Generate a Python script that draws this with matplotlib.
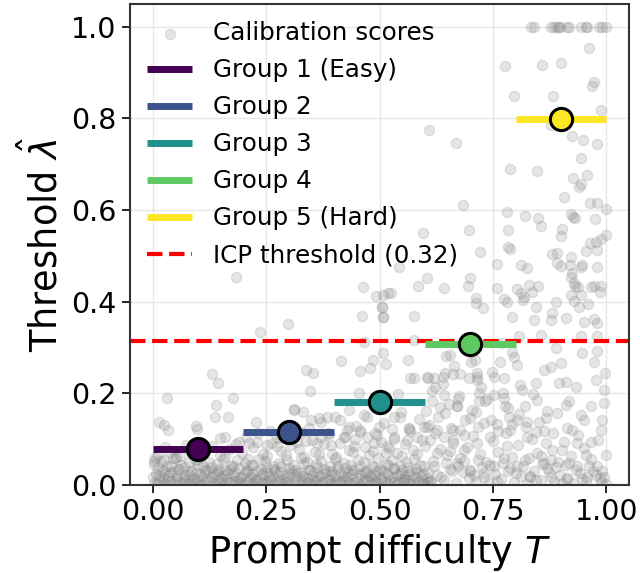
import numpy as np
import matplotlib
matplotlib.use("Agg")
import matplotlib.pyplot as plt

# group thresholds (bin edges + per-group lambda)
bin_edges = [0.0, 0.2, 0.4, 0.6, 0.8, 1.0]
group_lambda = [0.078, 0.116, 0.180, 0.307, 0.798]
group_labels = ["Group 1 (Easy)", "Group 2", "Group 3", "Group 4", "Group 5 (Hard)"]
icp_threshold = 0.315

# calibration scores (dense bottom band, row by row)
band1_T = [0.003, 0.015, 0.028, 0.041, 0.052, 0.066, 0.078, 0.089, 0.101, 0.114,
           0.126, 0.139, 0.151, 0.163, 0.176, 0.188, 0.199, 0.213, 0.224, 0.238,
           0.249, 0.261, 0.276, 0.288, 0.299, 0.312, 0.326, 0.337, 0.349, 0.363,
           0.374, 0.388, 0.401, 0.412, 0.426, 0.437, 0.451, 0.463, 0.474, 0.488,
           0.499, 0.513, 0.524, 0.538, 0.551, 0.562, 0.576, 0.588, 0.601, 0.614]
band1_y = [0.004, 0.010, 0.002, 0.008, 0.012, 0.003, 0.007, 0.001, 0.011, 0.005,
           0.009, 0.002, 0.006, 0.012, 0.004, 0.008, 0.001, 0.010, 0.005, 0.007,
           0.003, 0.011, 0.006, 0.002, 0.009, 0.004, 0.012, 0.007, 0.001, 0.008,
           0.005, 0.010, 0.003, 0.006, 0.011, 0.002, 0.009, 0.004, 0.008, 0.012,
           0.003, 0.007, 0.010, 0.001, 0.006, 0.011, 0.004, 0.008, 0.002, 0.009]

band2_T = [0.008, 0.021, 0.034, 0.046, 0.059, 0.071, 0.083, 0.096, 0.108, 0.121,
           0.133, 0.145, 0.158, 0.170, 0.182, 0.194, 0.207, 0.219, 0.231, 0.244,
           0.256, 0.268, 0.281, 0.293, 0.306, 0.318, 0.331, 0.343, 0.356, 0.368,
           0.381, 0.393, 0.406, 0.419, 0.431, 0.444, 0.457, 0.469, 0.482, 0.494,
           0.507, 0.519, 0.532, 0.545, 0.557, 0.570, 0.583, 0.596]
band2_y = [0.024, 0.031, 0.019, 0.028, 0.035, 0.022, 0.030, 0.026, 0.017, 0.033,
           0.025, 0.029, 0.021, 0.034, 0.027, 0.018, 0.032, 0.023, 0.030, 0.026,
           0.020, 0.034, 0.028, 0.022, 0.031, 0.025, 0.019, 0.033, 0.027, 0.021,
           0.030, 0.024, 0.035, 0.020, 0.028, 0.032, 0.023, 0.026, 0.018, 0.031,
           0.029, 0.022, 0.034, 0.025, 0.020, 0.030, 0.027, 0.023]

band3_T = [0.004, 0.018, 0.031, 0.049, 0.062, 0.080, 0.093, 0.111, 0.124, 0.142,
           0.155, 0.173, 0.186, 0.204, 0.217, 0.235, 0.248, 0.266, 0.279, 0.297,
           0.310, 0.328, 0.341, 0.359, 0.372, 0.390, 0.403, 0.421, 0.434, 0.452,
           0.465, 0.483, 0.496, 0.514, 0.527, 0.545, 0.558, 0.576, 0.589]
band3_y = [0.045, 0.052, 0.040, 0.058, 0.043, 0.049, 0.055, 0.041, 0.050, 0.046,
           0.057, 0.042, 0.053, 0.048, 0.044, 0.056, 0.051, 0.040, 0.047, 0.054,
           0.043, 0.059, 0.049, 0.045, 0.052, 0.041, 0.057, 0.048, 0.044, 0.055,
           0.050, 0.042, 0.058, 0.046, 0.053, 0.041, 0.049, 0.056, 0.044]

band4_T = [0.012, 0.038, 0.061, 0.085, 0.117, 0.148, 0.171, 0.196, 0.221, 0.243,
           0.262, 0.284, 0.305, 0.322, 0.339, 0.358, 0.377, 0.395, 0.414, 0.433,
           0.447, 0.468, 0.486, 0.503, 0.521, 0.539, 0.556, 0.574, 0.593]
band4_y = [0.066, 0.072, 0.063, 0.069, 0.075, 0.064, 0.078, 0.070, 0.082, 0.068,
           0.091, 0.074, 0.086, 0.079, 0.095, 0.071, 0.088, 0.067, 0.092, 0.077,
           0.099, 0.083, 0.073, 0.094, 0.081, 0.069, 0.089, 0.076, 0.097]

band5_T = [0.205, 0.232, 0.258, 0.281, 0.301, 0.327, 0.345, 0.371, 0.389, 0.412,
           0.428, 0.449, 0.466, 0.491, 0.509, 0.528, 0.548, 0.567, 0.586, 0.605]
band5_y = [0.104, 0.112, 0.118, 0.108, 0.131, 0.115, 0.124, 0.137, 0.110, 0.141,
           0.119, 0.128, 0.152, 0.113, 0.135, 0.122, 0.158, 0.117, 0.143, 0.126]

band6_T = [0.009, 0.022, 0.035, 0.047, 0.058, 0.072, 0.084, 0.095, 0.107, 0.119,
           0.132, 0.144, 0.157, 0.169, 0.181, 0.193, 0.206, 0.218, 0.230, 0.243,
           0.255, 0.267, 0.280, 0.292, 0.305, 0.317, 0.330, 0.342, 0.355, 0.367,
           0.380, 0.392, 0.405, 0.418, 0.430, 0.443, 0.456, 0.468, 0.481, 0.493,
           0.506, 0.518, 0.531, 0.544, 0.556, 0.569, 0.582, 0.595, 0.607]
band6_y = [0.002, 0.006, 0.009, 0.001, 0.005, 0.010, 0.003, 0.007, 0.000, 0.008,
           0.004, 0.011, 0.002, 0.006, 0.009, 0.003, 0.007, 0.001, 0.010, 0.004,
           0.008, 0.002, 0.011, 0.005, 0.000, 0.009, 0.003, 0.007, 0.010, 0.002,
           0.006, 0.001, 0.008, 0.011, 0.004, 0.007, 0.000, 0.010, 0.003, 0.006,
           0.009, 0.002, 0.005, 0.008, 0.011, 0.001, 0.007, 0.004, 0.006]

band7_T = [0.001, 0.013, 0.026, 0.039, 0.054, 0.068, 0.081, 0.092, 0.105, 0.117,
           0.130, 0.141, 0.154, 0.167, 0.179, 0.191, 0.203, 0.216, 0.228, 0.240,
           0.253, 0.265, 0.277, 0.290, 0.302, 0.315, 0.328, 0.340, 0.352, 0.365,
           0.377, 0.390, 0.403, 0.415, 0.428, 0.440, 0.453, 0.466, 0.478, 0.491,
           0.503, 0.516, 0.529, 0.541, 0.554, 0.566, 0.579, 0.592, 0.605]
band7_y = [0.016, 0.022, 0.014, 0.027, 0.019, 0.015, 0.024, 0.013, 0.021, 0.028,
           0.017, 0.023, 0.014, 0.026, 0.020, 0.015, 0.025, 0.018, 0.013, 0.022,
           0.027, 0.016, 0.021, 0.014, 0.024, 0.019, 0.028, 0.015, 0.022, 0.017,
           0.026, 0.013, 0.020, 0.025, 0.016, 0.023, 0.014, 0.027, 0.019, 0.021,
           0.015, 0.026, 0.018, 0.022, 0.013, 0.024, 0.017, 0.020, 0.015]

band8_T = [0.011, 0.025, 0.040, 0.055, 0.070, 0.086, 0.099, 0.115, 0.128, 0.146,
           0.160, 0.177, 0.190, 0.209, 0.222, 0.239, 0.252, 0.270, 0.284, 0.300,
           0.314, 0.333, 0.346, 0.362, 0.377, 0.394, 0.408, 0.425, 0.439, 0.456,
           0.470, 0.487, 0.501, 0.518, 0.533, 0.549, 0.563, 0.580, 0.597]
band8_y = [0.036, 0.031, 0.042, 0.034, 0.038, 0.030, 0.044, 0.033, 0.039, 0.035,
           0.032, 0.041, 0.037, 0.030, 0.043, 0.034, 0.038, 0.031, 0.040, 0.036,
           0.033, 0.045, 0.032, 0.039, 0.035, 0.030, 0.042, 0.037, 0.033, 0.040,
           0.031, 0.038, 0.034, 0.043, 0.036, 0.032, 0.039, 0.035, 0.041]

band9_T = [0.006, 0.027, 0.052, 0.073, 0.098, 0.131, 0.160, 0.183, 0.211, 0.229,
           0.251, 0.273, 0.294, 0.314, 0.333, 0.352, 0.366, 0.386, 0.404, 0.423,
           0.441, 0.458, 0.477, 0.495, 0.514, 0.531, 0.549, 0.565, 0.583, 0.601]
band9_y = [0.058, 0.083, 0.061, 0.087, 0.055, 0.084, 0.060, 0.089, 0.057, 0.094,
           0.063, 0.102, 0.066, 0.109, 0.060, 0.097, 0.068, 0.112, 0.061, 0.105,
           0.072, 0.116, 0.064, 0.108, 0.070, 0.101, 0.062, 0.121, 0.067, 0.085]

right1_T = [0.612, 0.627, 0.641, 0.655, 0.668, 0.684, 0.697, 0.712, 0.726, 0.741,
            0.755, 0.768, 0.783, 0.797, 0.812, 0.826, 0.840, 0.855, 0.869, 0.884,
            0.898, 0.913, 0.927, 0.942, 0.956, 0.971, 0.985, 0.998]
right1_y = [0.006, 0.021, 0.011, 0.034, 0.004, 0.027, 0.015, 0.009, 0.038, 0.003,
            0.024, 0.013, 0.031, 0.007, 0.019, 0.002, 0.029, 0.010, 0.036, 0.005,
            0.022, 0.012, 0.003, 0.026, 0.008, 0.030, 0.014, 0.002]

right2_T = [0.618, 0.633, 0.649, 0.662, 0.677, 0.692, 0.705, 0.721, 0.735, 0.749,
            0.762, 0.778, 0.791, 0.806, 0.820, 0.835, 0.848, 0.862, 0.879, 0.893,
            0.906, 0.921, 0.937, 0.951, 0.966, 0.981]
right2_y = [0.052, 0.078, 0.064, 0.091, 0.058, 0.083, 0.106, 0.067, 0.049, 0.095,
            0.072, 0.113, 0.061, 0.087, 0.054, 0.101, 0.069, 0.118, 0.076, 0.050,
            0.093, 0.063, 0.108, 0.081, 0.057, 0.098]

right3_T = [0.607, 0.621, 0.636, 0.646, 0.659, 0.672, 0.687, 0.699, 0.709, 0.718,
            0.731, 0.744, 0.758, 0.773, 0.787, 0.801, 0.816, 0.831, 0.845, 0.859,
            0.873, 0.888, 0.903, 0.917, 0.932, 0.947, 0.962, 0.976, 0.990]
right3_y = [0.028, 0.041, 0.018, 0.047, 0.029, 0.040, 0.052, 0.031, 0.021, 0.055,
            0.017, 0.044, 0.008, 0.048, 0.037, 0.026, 0.042, 0.020, 0.011, 0.045,
            0.027, 0.039, 0.004, 0.047, 0.033, 0.012, 0.042, 0.021, 0.031]

right4_T = [0.609, 0.623, 0.644, 0.658, 0.673, 0.687, 0.703, 0.717, 0.733, 0.746,
            0.761, 0.776, 0.792, 0.808, 0.823, 0.838, 0.852, 0.868, 0.883]
right4_y = [0.131, 0.112, 0.157, 0.124, 0.188, 0.109, 0.163, 0.127, 0.184, 0.141,
            0.118, 0.172, 0.133, 0.155, 0.126, 0.198, 0.137, 0.161, 0.113]

mid_T = [0.603, 0.615, 0.628, 0.639, 0.652, 0.664, 0.676, 0.689, 0.701, 0.713,
         0.724, 0.736, 0.748, 0.759, 0.771, 0.783, 0.711, 0.715, 0.715, 0.719,
         0.663, 0.678, 0.605]
mid_y = [0.162, 0.205, 0.148, 0.221, 0.176, 0.259, 0.193, 0.142, 0.268, 0.158,
         0.214, 0.187, 0.247, 0.132, 0.201, 0.168, 0.273, 0.244, 0.229, 0.200,
         0.241, 0.241, 0.236]

# sparser points, read one by one
sparse_T = [0.834, 0.840, 0.877, 0.884, 0.890, 0.895, 0.898, 0.913, 0.917, 0.943,
            0.954, 0.957, 0.983, 0.991, 0.998,
            0.961, 0.776, 0.857, 0.899, 0.972, 0.969, 0.796, 0.882, 0.987, 0.877,
            0.924, 0.948, 0.979, 0.943, 0.609, 0.669, 0.788, 0.847,
            0.927, 0.958, 0.945, 0.940, 0.907, 0.685, 0.963, 0.979, 0.999, 0.780,
            0.820, 0.849, 0.855, 0.921, 0.927, 0.930, 0.975, 0.698, 0.596, 0.783,
            0.902, 0.900, 0.998, 0.987, 0.978, 0.963, 0.783, 0.788, 0.721, 0.879,
            0.891, 0.921, 0.956, 0.979, 0.544, 0.759, 0.812, 0.825, 0.891, 0.899,
            0.919, 0.943, 0.946, 0.979, 0.605, 0.585, 0.641, 0.700, 0.695, 0.525,
            0.508, 0.506, 0.508, 0.577, 0.713, 0.713, 0.727, 0.758, 0.775, 0.781,
            0.802, 0.812, 0.818, 0.829, 0.836, 0.849, 0.816, 0.845, 0.889, 0.879,
            0.911, 0.921, 0.924, 0.928, 0.931, 0.937, 0.921, 0.943, 0.928, 0.939,
            0.960, 0.967, 0.972, 0.985, 0.989, 0.878, 0.840, 0.791, 0.950, 0.972,
            0.979,
            0.184, 0.463, 0.493, 0.518, 0.506, 0.507, 0.461, 0.298, 0.236,
            0.130, 0.144, 0.032, 0.140, 0.177, 0.138, 0.166, 0.013, 0.024, 0.033,
            0.095, 0.098, 0.227, 0.311, 0.159, 0.149, 0.212, 0.252, 0.274, 0.190,
            0.004, 0.024, 0.046,
            0.577, 0.465, 0.508, 0.415, 0.486, 0.515, 0.562, 0.337, 0.353, 0.458,
            0.478, 0.568, 0.577, 0.606, 0.619, 0.640, 0.645, 0.647, 0.655, 0.623,
            0.346, 0.454, 0.540, 0.641, 0.312, 0.331, 0.432, 0.473, 0.531, 0.546,
            0.616, 0.634, 0.671, 0.366, 0.384, 0.401, 0.348, 0.432, 0.458, 0.498,
            0.564, 0.597, 0.627, 0.663, 0.421, 0.443, 0.370, 0.362, 0.531, 0.561,
            0.583, 0.612, 0.641, 0.663, 0.487, 0.473, 0.517, 0.627, 0.656, 0.392,
            0.318,
            0.770, 0.807, 0.855, 0.888, 0.943, 0.979, 0.946, 0.972, 0.979, 0.996,
            0.792, 0.796, 0.803, 0.766, 0.752, 0.774, 0.810, 0.814, 0.844, 0.862,
            0.877, 0.899, 0.895, 0.910, 0.932, 0.976, 0.994, 0.697, 0.715, 0.671,
            0.719, 0.752, 0.774, 0.821, 0.846, 0.866, 0.891, 0.910, 0.917, 0.943,
            0.965, 0.991, 0.994, 0.950, 0.913, 0.924, 0.987, 0.825, 0.803, 0.785,
            0.825, 0.844, 0.866, 0.902, 0.935, 0.965, 0.954, 0.998, 0.979, 0.877,
            0.910, 0.935, 0.957, 0.829, 0.855, 0.862, 0.803, 0.774, 0.752, 0.730,
            0.700, 0.671, 0.686, 0.715, 0.744, 0.730, 0.700, 0.678, 0.788, 0.781,
            0.832, 0.877, 0.913, 0.994, 0.987]
sparse_y = [0.999, 0.999, 0.999, 0.999, 0.999, 0.999, 0.999, 0.999, 0.999, 0.999,
            0.999, 0.999, 0.999, 0.999, 0.999,
            0.954, 0.914, 0.917, 0.922, 0.880, 0.871, 0.849, 0.848, 0.818, 0.786,
            0.762, 0.753, 0.744, 0.713, 0.775, 0.746, 0.689, 0.686,
            0.669, 0.676, 0.656, 0.650, 0.629, 0.612, 0.615, 0.616, 0.603, 0.596,
            0.588, 0.582, 0.566, 0.591, 0.584, 0.582, 0.580, 0.557, 0.550, 0.556,
            0.558, 0.544, 0.545, 0.537, 0.530, 0.529, 0.519, 0.516, 0.509, 0.503,
            0.506, 0.498, 0.511, 0.513, 0.476, 0.482, 0.480, 0.473, 0.484, 0.478,
            0.480, 0.476, 0.479, 0.475, 0.452, 0.434, 0.429, 0.452, 0.434, 0.418,
            0.415, 0.389, 0.367, 0.369, 0.408, 0.396, 0.385, 0.429, 0.405, 0.400,
            0.428, 0.418, 0.411, 0.436, 0.422, 0.434, 0.404, 0.389, 0.399, 0.376,
            0.365, 0.454, 0.463, 0.440, 0.434, 0.433, 0.415, 0.415, 0.402, 0.389,
            0.394, 0.433, 0.434, 0.420, 0.434, 0.360, 0.360, 0.366, 0.355, 0.362,
            0.353,
            0.454, 0.431, 0.412, 0.418, 0.388, 0.366, 0.369, 0.351, 0.333,
            0.241, 0.222, 0.190, 0.175, 0.190, 0.149, 0.147, 0.138, 0.131, 0.120,
            0.129, 0.122, 0.136, 0.165, 0.105, 0.102, 0.091, 0.087, 0.084, 0.094,
            0.051, 0.055, 0.058,
            0.316, 0.311, 0.287, 0.271, 0.273, 0.264, 0.273, 0.251, 0.244, 0.249,
            0.255, 0.234, 0.234, 0.234, 0.234, 0.236, 0.244, 0.281, 0.284, 0.213,
            0.205, 0.200, 0.199, 0.195, 0.164, 0.160, 0.164, 0.148, 0.148, 0.148,
            0.182, 0.170, 0.171, 0.146, 0.148, 0.148, 0.142, 0.127, 0.120, 0.127,
            0.124, 0.127, 0.120, 0.120, 0.105, 0.084, 0.105, 0.091, 0.105, 0.098,
            0.105, 0.098, 0.105, 0.098, 0.091, 0.105, 0.084, 0.069, 0.073, 0.087,
            0.094,
            0.309, 0.325, 0.327, 0.298, 0.325, 0.325, 0.287, 0.269, 0.293, 0.244,
            0.291, 0.280, 0.262, 0.269, 0.236, 0.233, 0.218, 0.207, 0.222, 0.251,
            0.258, 0.266, 0.222, 0.225, 0.214, 0.229, 0.207, 0.233, 0.236, 0.171,
            0.182, 0.196, 0.189, 0.171, 0.185, 0.146, 0.156, 0.175, 0.182, 0.153,
            0.171, 0.142, 0.178, 0.142, 0.124, 0.120, 0.120, 0.138, 0.142, 0.149,
            0.105, 0.116, 0.091, 0.076, 0.091, 0.094, 0.065, 0.065, 0.040, 0.055,
            0.044, 0.040, 0.018, 0.058, 0.062, 0.047, 0.040, 0.058, 0.040, 0.026,
            0.033, 0.047, 0.076, 0.091, 0.105, 0.135, 0.146, 0.120, 0.120, 0.084,
            0.018, 0.018, 0.015, 0.018, 0.007]

calib_T = (band1_T + band2_T + band3_T + band4_T + band5_T + band6_T + band7_T
           + band8_T + band9_T + right1_T + right2_T + right3_T + right4_T
           + mid_T + sparse_T)
calib_y = (band1_y + band2_y + band3_y + band4_y + band5_y + band6_y + band7_y
           + band8_y + band9_y + right1_y + right2_y + right3_y + right4_y
           + mid_y + sparse_y)

colors = plt.cm.viridis(np.linspace(0, 1, 5))

fig = plt.figure(figsize=(6.4, 5.73), dpi=100)
ax = fig.add_axes([0.203, 0.154, 0.780, 0.839])

ax.scatter(calib_T, calib_y, s=54, color="gray", alpha=0.2,
           label="Calibration scores", zorder=1)

for i in range(5):
    lo, hi = bin_edges[i], bin_edges[i + 1]
    ax.plot([lo, hi], [group_lambda[i], group_lambda[i]], color=colors[i],
            lw=5, solid_capstyle="butt", label=group_labels[i], zorder=3)
    ax.plot((lo + hi) / 2, group_lambda[i], "o", ms=16, color=colors[i],
            mec="black", mew=2.2, zorder=4)

ax.axhline(icp_threshold, color="red", ls="--", lw=3,
           label="ICP threshold (0.32)", zorder=2)

ax.set_xlim(-0.05, 1.05)
ax.set_ylim(0, 1.05)
ax.set_xticks([0, 0.25, 0.5, 0.75, 1.0])
ax.set_xticklabels(["0.00", "0.25", "0.50", "0.75", "1.00"])
ax.set_yticks([0, 0.2, 0.4, 0.6, 0.8, 1.0])
ax.tick_params(labelsize=20.5, width=1.2, length=6)
ax.grid(True, color="#dddddd", lw=1, alpha=0.7)
ax.set_axisbelow(True)
for s in ax.spines.values():
    s.set_linewidth(1.5)
    s.set_color("#333333")

ax.set_xlabel("Prompt difficulty $T$", fontsize=26.5)
ax.set_ylabel(r"Threshold $\hat{\lambda}$", fontsize=26.5)

ax.legend(loc="upper left", fontsize=17.7, frameon=False, labelspacing=0.53,
          handlelength=1.83, handletextpad=0.83, borderaxespad=0.3)

fig.savefig("out.png", dpi=100)
